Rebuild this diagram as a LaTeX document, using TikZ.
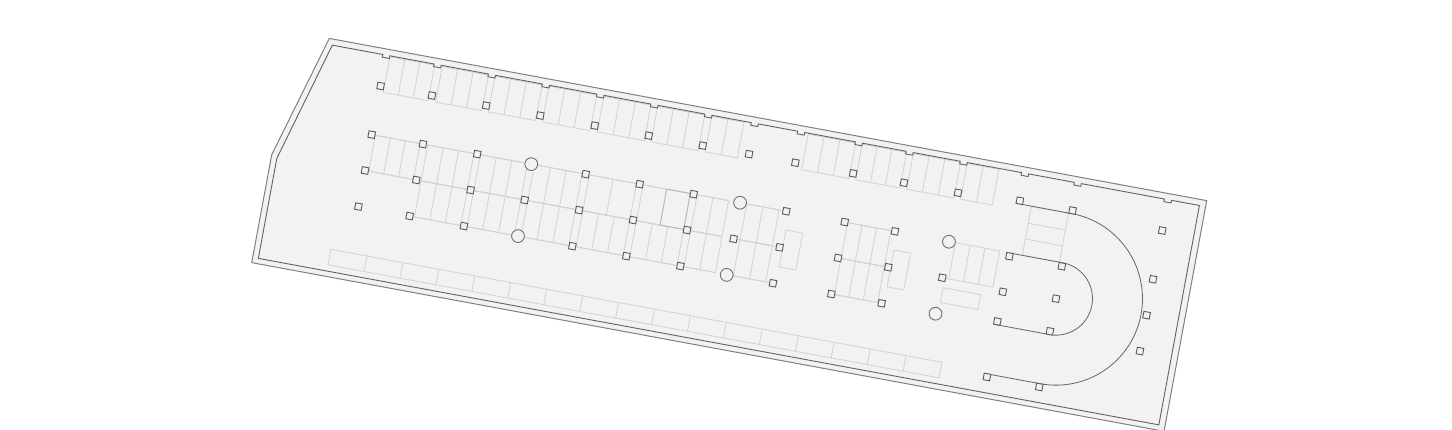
\documentclass[tikz,border=0pt]{standalone}
\tikzset{
  slab/.style={fill=slabfill,draw=none},
  outerwall/.style={draw=wallgrey,line width=1pt,line join=miter},
  innerwall/.style={draw=walldark,line width=.9pt,line join=miter},
  stallline/.style={draw=stallgrey,line width=.8pt},
  boxline/.style={draw=boxgrey,line width=.8pt},
  ramp/.style={draw=rampgrey,line width=.8pt},
  pillar/.style={rectangle,draw=pillargrey,fill=slabfill,line width=.9pt,minimum size=6.6pt,inner sep=0pt,rotate=-10.48},
  roundpillar/.style={circle,draw=circlegrey,fill=slabfill,line width=.9pt,minimum size=12.8pt,inner sep=0pt}
}
\definecolor{slabfill}{HTML}{F2F2F2}
\definecolor{wallgrey}{HTML}{808080}
\definecolor{walldark}{HTML}{626262}
\definecolor{stallgrey}{HTML}{D2D2D2}
\definecolor{boxgrey}{HTML}{B8B8B8}
\definecolor{rampgrey}{HTML}{666666}
\definecolor{pillargrey}{HTML}{5A5A5A}
\definecolor{circlegrey}{HTML}{707070}
% rectangle in the slanted frame: a0, b0, a1, b1
\newcommand{\lbox}[5][stallline]{%
  \draw[#1] (#2,#3) -- (#4,#3) -- (#4,#5) -- (#2,#5) -- cycle;
}
% block of stalls: a0, a1, b0, b1, number of stalls
\newcommand{\stallblock}[5]{%
  \lbox{#1}{#3}{#2}{#4}
  \pgfmathtruncatemacro{\lastdiv}{#5-1}%
  \foreach \k in {1,...,\lastdiv}{%
    \pgfmathsetmacro{\da}{#1+(#2-#1)*\k/#5}%
    \draw[stallline] (\da,#3) -- (\da,#4);
  }%
}
\begin{document}
\begin{tikzpicture}[x={(.9833pt,-.1818pt)},y={(-.1818pt,-.9833pt)}]
\useasboundingbox (0pt,0pt) rectangle (1452pt,-429pt);
% slab and outer wall
\path[slab] (330.8,-22.1) -- (1223.1,-22.1) -- (1223.1,212.5) -- (295.3,212.5) -- (295.3,103) -- cycle;

% stalls along the top wall
\stallblock{393.7}{439.3}{-15}{21.2}{3}
\stallblock{447}{494}{-15}{21.2}{3}
\stallblock{500.5}{548.5}{-15}{21.2}{3}
\stallblock{555.4}{604}{-15}{21.2}{3}
\stallblock{611.4}{659.3}{-15}{21.2}{3}
\stallblock{666}{714}{-15}{21.2}{3}
\stallblock{721}{753.8}{-15}{21.2}{2}
\stallblock{819.2}{867.4}{-15}{21.2}{3}
\stallblock{874.1}{919.2}{-15}{21.2}{3}
\stallblock{926}{974.1}{-15}{21.2}{3}
\stallblock{980.9}{1013.1}{-15}{21.2}{2}

% central double rows
\draw[stallline] (390,64.8) -- (753,64.8);
\draw[stallline] (390,101.3) -- (753,101.3);
\draw[stallline] (442.1,138) -- (753,138);
\stallblock{393.7}{439.3}{64.8}{101.3}{3}
\foreach \aa/\ab in {447/494,500.5/548.5,555.4/604}{
  \stallblock{\aa}{\ab}{64.8}{101.3}{3}
  \stallblock{\aa}{\ab}{101.3}{138}{3}
}
\stallblock{611.4}{659.3}{64.8}{101.3}{2}
\stallblock{611.4}{659.3}{101.3}{138}{3}
\stallblock{666}{714}{64.8}{101.3}{2}
\stallblock{666}{714}{101.3}{138}{3}
\lbox[boxline]{690}{64.8}{714}{101.3}
\stallblock{721}{753}{64.8}{101.3}{2}
\stallblock{721}{753}{101.3}{138}{2}
\stallblock{771.3}{804.2}{64.8}{101.3}{2}
\stallblock{771.3}{804.2}{101.3}{138}{2}
\draw[stallline] (764.6,138) -- (811.6,138);
\draw[stallline] (764.6,64.8) -- (811.6,64.8);
\draw[stallline] (764.6,101.3) -- (811.6,101.3);
\lbox{814.7}{83.3}{831.7}{120.8}

% block between the core and the ramp
\stallblock{874}{918}{64.8}{101.3}{3}
\stallblock{874}{918}{101.3}{138}{3}
\draw[stallline] (871,64.8) -- (922,64.8);
\draw[stallline] (871,101.3) -- (922,101.3);
\draw[stallline] (871,138) -- (922,138);
\lbox{924.5}{83.3}{941.4}{120.8}

% block beside the ramp
\stallblock{983.6}{1028.6}{65}{101.8}{3}
\draw[stallline] (977,65) -- (983.6,65);
\draw[stallline] (977,101.8) -- (983.6,101.8);
\lbox{979.8}{111.4}{1018}{126.5}

% stalls in the ramp
\lbox{1051.7}{15.6}{1089.5}{65.4}
\draw[stallline] (1051.7,32.6) -- (1089.5,32.6);
\draw[stallline] (1051.7,48.6) -- (1089.5,48.6);

% long strip along the bottom wall
\lbox{370.8}{185}{992.1}{200.8}
\foreach \k in {1,...,16}{
  \pgfmathsetmacro{\da}{370.8+36.55*\k}
  \draw[stallline] (\da,185) -- (\da,200.8);
}

% walls
\draw[outerwall] (330.8,-22.1) -- (1223.1,-22.1) -- (1223.1,212.5) -- (295.3,212.5) -- (295.3,103) -- cycle;
\draw[innerwall] (335,-16) \foreach \n in {389.9,442.1,497.3,552.3,607.7,662.6,717.5,764.6,811.8,870.5,922.1,977.1,1039.5,1093.1,1184.8}{ -- (\n-3.6,-16) -- (\n-3.6,-13.3) -- (\n+3.6,-13.3) -- (\n+3.6,-16)} -- (1216.8,-16) -- (1216.8,207.1) -- (301,207.1) -- (301,105.5) -- cycle;

% ramp
\draw[ramp] (1041,15.2) -- (1092.7,15.2) plot[domain=-90:90,samples=121] ({1092.7+86.5*cos(\x)},{101.7+86.5*sin(\x)}) -- (1039,188.2);
\draw[ramp] (1039.2,65.2) -- (1092.7,65.2) plot[domain=-90:90,samples=91] ({1092.7+36.5*cos(\x)},{101.7+36.5*sin(\x)}) -- (1039.2,138.2);

% square pillars
\foreach \pa/\pb [count=\i] in {
 389.9/15.4,442.1/15.4,497.3/15.4,552.3/15.4,607.7/15.4,662.6/15.4,717.5/15.4,764.6/15.4,811.7/15.4,870.5/15.4,922.1/15.4,977.1/15.4,1184.8/15.4,1039.4/12,1093/12,
 390/64.8,442.1/64.8,497.3/64.8,607.6/64.8,662.5/64.8,717.4/64.8,811.6/64.8,871/64.8,922.1/64.8,1184.6/65,
 390/101.3,442.1/101.3,497.3/101.3,552.3/101.3,607.6/101.3,662.5/101.3,717.4/101.3,764.8/101.5,811.6/101.5,871/101.3,922.1/101.3,977.1/101.8,1184.8/101.5,
 390/138,442.1/138,497.3/138,607.6/138,662.5/138,717.4/138,811.6/138,871/138,922.1/138,1184.8/138,
 1039.2/68.5,1039.2/104.6,1039.2/134.8,1092.6/68.8,1092.7/101.7,1092.7/134.9,1039/191.3,1092.3/191.6}{
  \node[pillar] (p\i) at (\pa,\pb) {};
}
% round pillars
\foreach \pa/\pb [count=\i] in {552.3/64.8,764.6/64.8,977.1/65.2,552.3/138,764.6/138.2,977/138.4}{
  \node[roundpillar] (c\i) at (\pa,\pb) {};
}
\end{tikzpicture}
\end{document}
